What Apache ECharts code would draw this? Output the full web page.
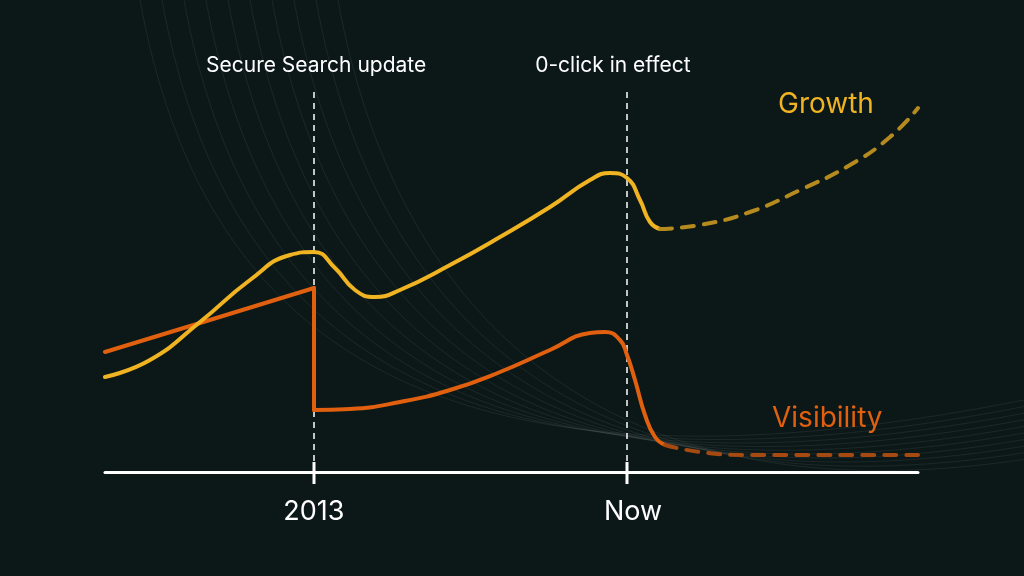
<!DOCTYPE html>
<html><head><meta charset="utf-8">
<script src="https://cdn.jsdelivr.net/npm/echarts@6/dist/echarts.min.js"></script>
<style>html,body{margin:0;background:#0b1817}#c{width:1024px;height:576px}</style>
</head><body><div id="c"></div>
<script>
// x = distance along the axis, y = height above the axis (chart units)
var growthSolid = [[0,95],[45,112],[95,150],[145,192],[185,217],[209,220],[230,204],[250,182],[270,175],[295,182],[345,207],[395,235],[445,265],[485,292],[505,299],[522,294],[535,272],[545,250],[555,243]];
var growthDash = [[555,243],[595,247],[645,260],[695,282],[745,307],[785,335],[813,364]];
var visBefore = [[0,120],[95,149],[209,184]];
var visDrop = [[209,184],[209,62]];
var visAfter = [[209,62],[245,63],[295,70],[345,82],[395,100],[445,122],[485,139],[500,140],[515,132],[522,117],[530,92],[540,57],[550,35],[560,27]];
var visDash = [[560,27],[595,20],[645,17],[813,17]];
var events = [[209,'2013','Secure Search update'],[522,'Now','0-click in effect']];

var chart = echarts.init(document.getElementById('c'));
var F = 'Inter, sans-serif';
var series = [];
function line(data, color, dashed, smooth) {
  series.push({type:'line', data:data, smooth:smooth, symbol:'none', z:3,
    lineStyle:{color:color, width:4, type: dashed ? [12,10] : 'solid', cap:'round'}});
}
events.forEach(function(e){
  series.push({type:'line', data:[[e[0],0],[e[0],382]], symbol:'none', z:2,
    lineStyle:{color:'#ffffff', width:1.5, type:[6,5]}});
});
line(visBefore,'#e0600f',false,false);
line(visDrop,'#e0600f',false,false);
line(visAfter,'#e0600f',false,0.5);
line(visDash,'#a64a12',true,0.5);
line(growthSolid,'#f0b322',false,0.5);
line(growthDash,'#b58a1e',true,0.5);

var bg = [];
for (var i = 0; i < 10; i++) {
  var o = i * 22;
  bg.push({type:'bezierCurve', silent:true, z:0, shape:{x1:140+o, y1:0, x2:1024, y2:400+o*0.3, cpx1:200+o, cpy1:330, cpx2:420+o, cpy2:520},
    style:{stroke:'rgba(255,255,255,0.07)', fill:null, lineWidth:1}});
}
events.forEach(function(e){
  var px = 105 + e[0];
  bg.push({type:'text', left:px, top:55, style:{text:e[2], fill:'#ffffff', font:'21px '+F, align:'center'}, z:5});
  bg.push({type:'rect', shape:{x:px-1.5, y:462, width:3, height:22}, style:{fill:'#ffffff'}, z:5});
  bg.push({type:'text', left:px, top:498, style:{text:e[1], fill:'#ffffff', font:'27px '+F, align:'center'}, z:5});
});
bg.push({type:'text', left:778, top:91, style:{text:'Growth', fill:'#f0b322', font:'28px '+F}, z:5});
bg.push({type:'text', left:772, top:405, style:{text:'Visibility', fill:'#e0600f', font:'28px '+F}, z:5});
// graphic text with left is positioned by its box; shift centered texts by half their width
bg.forEach(function(g){ if (g.type==='text' && g.style.align==='center') {
  g.left = g.left - echarts.format.getTextRect ? g.left : g.left;
  var w = g.style.text.length * (g.style.font.indexOf('27')===0 ? 7.7 : 5.4);
  g.left = g.left - w; delete g.style.align; } });

chart.setOption({
  backgroundColor:'#0b1817',
  animation:false,
  grid:{left:105, right:106, top:0, bottom:104},
  xAxis:{type:'value', min:0, max:813, splitLine:{show:false}, axisTick:{show:false}, axisLabel:{show:false},
    axisLine:{lineStyle:{color:'#ffffff', width:3}}},
  yAxis:{type:'value', min:0, max:472, show:false},
  graphic:bg,
  series:series
});
</script></body></html>
